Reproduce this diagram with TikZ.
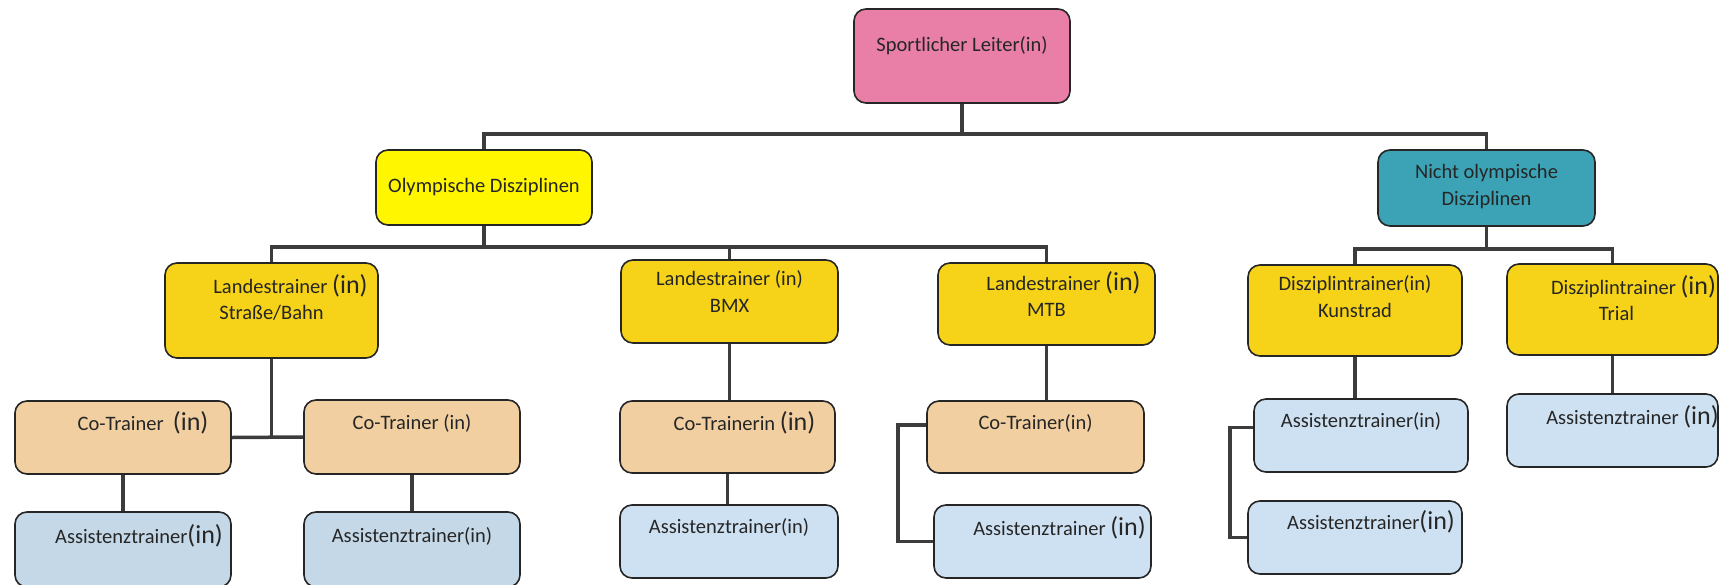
\documentclass[tikz,border=0pt]{standalone}
\usepackage{fontspec}
\setmainfont{Carlito}
\definecolor{leiterpink}{RGB}{233,127,167}
\definecolor{olympgelb}{RGB}{255,246,0}
\definecolor{trainergelb}{RGB}{246,211,24}
\definecolor{nichttuerkis}{RGB}{59,163,181}
\definecolor{cobeige}{RGB}{241,207,161}
\definecolor{assiblau}{RGB}{206,225,242}
\definecolor{assigrau}{RGB}{196,216,232}
\definecolor{linie}{RGB}{60,60,60}
\newcommand{\grossin}{{\fontsize{26}{26}\selectfont(in)}}

\begin{document}
\begin{tikzpicture}[
			x=1pt, y=-1pt,
			font=\fontsize{20.5}{26.5}\selectfont,
			box/.style={draw=black!85, line width=1.6pt, rounded corners=12pt, inner sep=0pt},
			leiter/.style={box, fill=leiterpink},
			olymp/.style={box, fill=olympgelb},
			nicht/.style={box, fill=nichttuerkis},
			trainer/.style={box, fill=trainergelb},
			cotrainer/.style={box, fill=cobeige},
			assi/.style={box, fill=assiblau},
			txt/.style={anchor=center, align=center, inner sep=0pt, text=black!85},
			conn/.style={draw=linie, line width=3.5pt}
		]
		\useasboundingbox (0,0) rectangle (1719,584);
		\clip (0,0) rectangle (1719,584);

		% Leitung und Disziplinen
		\node[leiter, minimum width=216pt, minimum height=94pt,
			label={[txt,yshift=-37pt]north:Sportlicher Leiter(in)}] (leiter) at (962,56) {};
		\node[olymp, minimum width=216pt, minimum height=75pt,
			label={[txt,yshift=-38pt]north:Olympische Disziplinen}] (olymp) at (484,187.5) {};
		\node[nicht, minimum width=217pt, minimum height=76pt,
			label={[txt,yshift=-37.5pt]north:Nicht olympische\\Disziplinen}] (nicht) at (1486.5,188) {};

		% Landes- und Disziplintrainer
		\node[trainer, minimum width=213pt, minimum height=95pt,
			label={[txt,yshift=-35pt]north:\hspace*{38pt}Landestrainer \grossin\\Straße/Bahn}] (strasse) at (271.5,310.5) {};
		\node[trainer, minimum width=217pt, minimum height=83pt,
			label={[txt,yshift=-32.5pt]north:Landestrainer (in)\\BMX}] (bmx) at (729.5,301.5) {};
		\node[trainer, minimum width=217pt, minimum height=82pt,
			label={[txt,yshift=-32pt]north:\hspace*{34pt}Landestrainer \grossin\\MTB}] (mtb) at (1046.5,304) {};
		\node[trainer, minimum width=214pt, minimum height=91pt,
			label={[txt,yshift=-32.5pt]north:Disziplintrainer(in)\\Kunstrad}] (kunstrad) at (1355,310.5) {};
		\node[trainer, minimum width=211pt, minimum height=91pt,
			label={[txt,yshift=-35pt,xshift=4pt]north:\hspace*{34pt}Disziplintrainer \grossin\\Trial}] (trial) at (1612.5,309.5) {};

		% Co-Trainer
		\node[cotrainer, minimum width=216pt, minimum height=73pt,
			label={[txt,yshift=-23pt,xshift=20pt]north:Co-Trainer \ \grossin}] (coA) at (123,437.5) {};
		\node[cotrainer, minimum width=216pt, minimum height=74pt,
			label={[txt,yshift=-24pt]north:Co-Trainer (in)}] (coB) at (412,437) {};
		\node[cotrainer, minimum width=215pt, minimum height=72pt,
			label={[txt,yshift=-23pt,xshift=17pt]north:Co-Trainerin \grossin}] (coBmx) at (727.5,437) {};
		\node[cotrainer, minimum width=217pt, minimum height=72pt,
			label={[txt,yshift=-23pt]north:Co-Trainer(in)}] (coMtb) at (1035.5,437) {};

		% Assistenztrainer
		\node[assi, fill=assigrau, minimum width=216pt, minimum height=75pt,
			label={[txt,yshift=-25pt,xshift=16pt]north:Assistenztrainer\grossin}] (assiA) at (123,549.5) {};
		\node[assi, fill=assigrau, minimum width=216pt, minimum height=75pt,
			label={[txt,yshift=-25pt]north:Assistenztrainer(in)}] (assiB) at (412,549.5) {};
		\node[assi, minimum width=218pt, minimum height=73pt,
			label={[txt,yshift=-23pt]north:Assistenztrainer(in)}] (assiBmx) at (729,541.5) {};
		\node[assi, minimum width=217pt, minimum height=73pt,
			label={[txt,yshift=-24pt,xshift=17pt]north:Assistenztrainer \grossin}] (assiMtb) at (1042.5,541.5) {};
		\node[assi, minimum width=214pt, minimum height=73pt,
			label={[txt,yshift=-23pt]north:Assistenztrainer(in)}] (assiKunstA) at (1361,435.5) {};
		\node[assi, minimum width=214pt, minimum height=73pt,
			label={[txt,yshift=-22pt,xshift=16pt]north:Assistenztrainer\grossin}] (assiKunstB) at (1355,537.5) {};
		\node[assi, minimum width=211pt, minimum height=73pt,
			label={[txt,yshift=-24pt,xshift=20pt]north:Assistenztrainer \grossin}] (assiTrial) at (1612.5,430.5) {};

		% Verbindungen
		\draw[conn] (leiter.south) -- ++(0,30) -| (olymp.north);
		\draw[conn] (leiter.south) -- ++(0,30) -| (nicht.north);
		\draw[conn] (olymp.south) -- ++(0,21) -| (strasse.north);
		\draw[conn] (olymp.south) -- ++(0,21) -| (bmx.north);
		\draw[conn] (olymp.south) -- ++(0,21) -| (mtb.north);
		\draw[conn] (nicht.south) -- ++(0,22) -| (kunstrad.north);
		\draw[conn] (nicht.south) -- ++(0,22) -| (trial.north);

		\draw[conn] (strasse.south) -- (strasse.south |- coA.east);
		\draw[conn] (coA.east) -- (coB.west);
		\draw[conn] (coA.south) -- (coA.south |- assiA.north);
		\draw[conn] (coB.south) -- (coB.south |- assiB.north);
		\draw[conn] (bmx.south) -- (bmx.south |- coBmx.north);
		\draw[conn] (coBmx.south) -- (coBmx.south |- assiBmx.north);
		\draw[conn] (mtb.south) -- (mtb.south |- coMtb.north);
		\draw[conn] ([yshift=12pt]coMtb.west) -- ++(-28,0) |- (assiMtb.west);
		\draw[conn] (kunstrad.south) -- (kunstrad.south |- assiKunstA.north);
		\draw[conn] ([yshift=8pt]assiKunstA.west) -- ++(-23,0) |- (assiKunstB.west);
		\draw[conn] (trial.south) -- (trial.south |- assiTrial.north);
	\end{tikzpicture}
\end{document}
